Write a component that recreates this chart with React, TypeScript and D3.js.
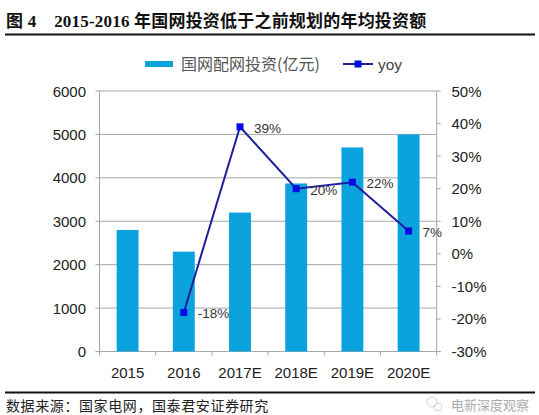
import React from 'react';
import * as d3 from 'd3';

const categories = ['2015', '2016', '2017E', '2018E', '2019E', '2020E'];
const investment = [2800, 2300, 3200, 3870, 4700, 5000];
const yoy: (number | null)[] = [null, -18, 39, 20, 22, 7];
const leftTicks = [0, 1000, 2000, 3000, 4000, 5000, 6000];
const rightTicks = [-30, -20, -10, 0, 10, 20, 30, 40, 50];
const title = '图 4    2015-2016 年国网投资低于之前规划的年均投资额';
const barLegend = '国网配网投资(亿元)';
const lineLegend = 'yoy';
const source = '数据来源：国家电网，国泰君安证券研究';
const watermark = '电新深度观察';

const W = 539;
const H = 415;
const left = 99.5;
const right = 436.7;
const top = 91;
const bottom = 351.5;

const BAR = '#0ba3dd';
const LINE = '#1f1f9e';
const MARK = '#0a0ae6';
const GRID = '#a6a6a6';
const SANS = '"Liberation Sans", Arial, sans-serif';
const CJK = '"Noto Sans CJK SC", sans-serif';

export default function App() {
  const x = d3.scaleBand<string>().domain(categories).range([left, right]).paddingInner(0.61).paddingOuter(0.305);
  const step = (right - left) / categories.length;
  const yL = d3.scaleLinear().domain([0, 6000]).range([bottom, top]);
  const yR = d3.scaleLinear().domain([-30, 50]).range([bottom, top]);
  const cx = (c: string) => (x(c) as number) + x.bandwidth() / 2;

  const pts = categories
    .map((c, i) => ({ c, v: yoy[i] }))
    .filter((d) => d.v !== null) as { c: string; v: number }[];
  const line = d3
    .line<{ c: string; v: number }>()
    .x((d) => cx(d.c))
    .y((d) => yR(d.v));

  return (
    <svg width={W} height={H} style={{ position: 'absolute', left: 0, top: 0, background: '#fff' }}>
      <rect x={0} y={0} width={W} height={H} fill="#fff" />
      {/* title */}
      <text x={6} y={27} fontFamily={'"Liberation Serif", "Noto Sans CJK SC", serif'} fontWeight="bold" fontSize={17} fill="#111" xmlSpace="preserve" letterSpacing={0.2}>
        {title}
      </text>
      <line x1={5} x2={535} y1={34.5} y2={34.5} stroke="#111" strokeWidth={2} />

      {/* legend */}
      <rect x={145} y={61} width={28} height={6} fill={BAR} />
      <text x={181} y={70} fontFamily={CJK} fontSize={16} fill="#555">{barLegend}</text>
      <line x1={343} x2={373} y1={64} y2={64} stroke={LINE} strokeWidth={2} />
      <rect x={354.5} y={60.5} width={7} height={7} fill={MARK} />
      <text x={378} y={69.5} fontFamily={SANS} fontSize={15.5} fill="#444">{lineLegend}</text>

      {/* gridlines and left ticks */}
      {leftTicks.map((t) => (
        <g key={t}>
          <line x1={left - 4} x2={t === 0 ? right + 4 : right} y1={yL(t)} y2={yL(t)} stroke={GRID} strokeWidth={1} />
          <text x={86} y={yL(t) + 5.5} textAnchor="end" fontFamily={SANS} fontSize={15} fill="#222">{t}</text>
        </g>
      ))}
      {/* right ticks */}
      {rightTicks.map((t) => (
        <g key={t}>
          <line x1={right} x2={right + 4} y1={yR(t)} y2={yR(t)} stroke={GRID} strokeWidth={1} />
          <text x={451.5} y={yR(t) + 5.5} fontFamily={SANS} fontSize={15} fill="#222">{t}%</text>
        </g>
      ))}
      <line x1={left} x2={left} y1={top} y2={bottom} stroke={GRID} strokeWidth={1} />
      <line x1={right} x2={right} y1={top} y2={bottom} stroke={GRID} strokeWidth={1} />

      {/* x ticks */}
      {d3.range(categories.length + 1).map((i) => (
        <line key={i} x1={left + i * step} x2={left + i * step} y1={bottom} y2={bottom + 4} stroke={GRID} strokeWidth={1} />
      ))}
      {categories.map((c) => (
        <text key={c} x={cx(c)} y={377.5} textAnchor="middle" fontFamily={SANS} fontSize={15} fill="#222">{c}</text>
      ))}

      {/* bars */}
      {categories.map((c, i) => (
        <rect key={c} x={x(c)} y={yL(investment[i])} width={x.bandwidth()} height={bottom - yL(investment[i])} fill={BAR} />
      ))}

      {/* line */}
      <path d={line(pts) || ''} fill="none" stroke={LINE} strokeWidth={2} />
      {pts.map((d) => (
        <g key={d.c}>
          <rect x={cx(d.c) - 3.5} y={yR(d.v) - 3.5} width={7} height={7} fill={MARK} />
          <text x={cx(d.c) + 14} y={yR(d.v) + 6} fontFamily={SANS} fontSize={13.5} fill="#333">{d.v}%</text>
        </g>
      ))}

      {/* footer */}
      <line x1={5} x2={535} y1={392.5} y2={392.5} stroke="#111" strokeWidth={2} />
      <text x={6} y={410.5} fontFamily={CJK} fontSize={14} fill="#222" letterSpacing={0.6}>{source}</text>
      <g opacity={0.6}>
        <circle cx={432} cy={402} r={5} fill="none" stroke="#bbb" strokeWidth={1} />
        <circle cx={438} cy={407} r={4} fill="none" stroke="#bbb" strokeWidth={1} />
      </g>
      <text x={451} y={410} fontFamily={CJK} fontSize={13} fill="#aaa">{watermark}</text>
    </svg>
  );
}
